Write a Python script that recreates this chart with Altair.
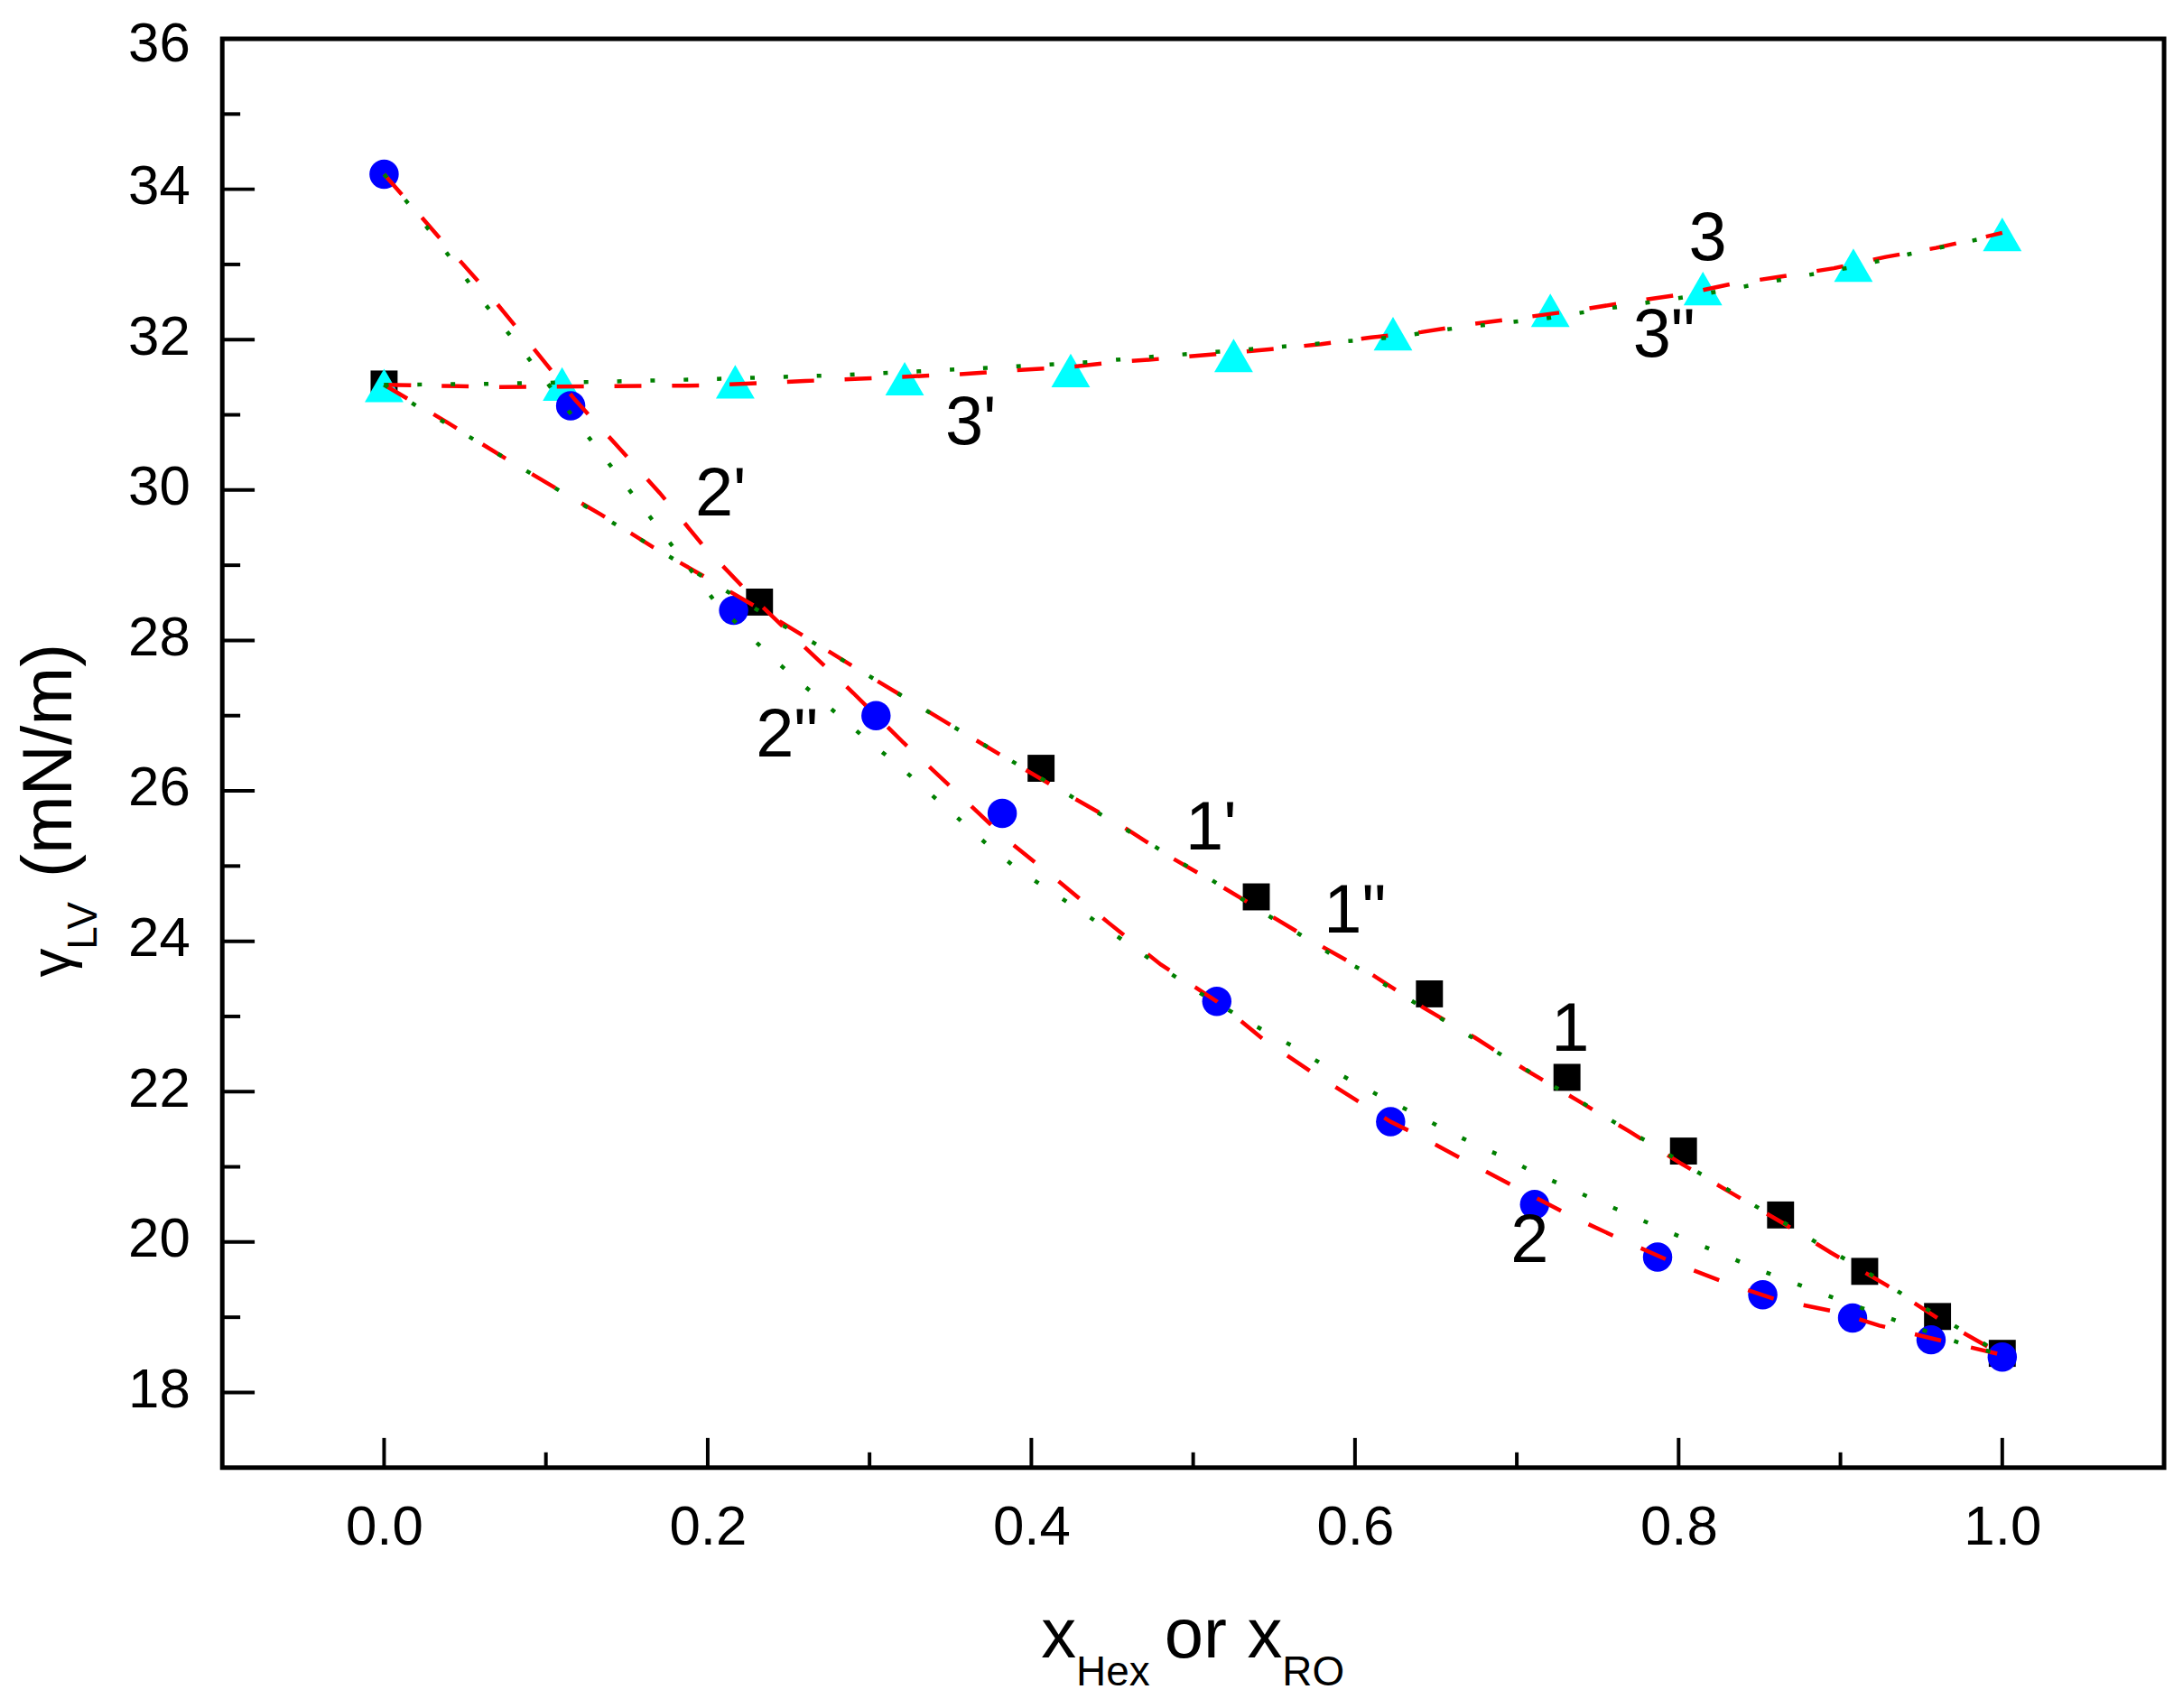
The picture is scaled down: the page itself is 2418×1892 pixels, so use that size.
import altair as alt
import pandas as pd

# ---------------- data ----------------
# series 1 (black squares)
sq_x = [0.0, 0.232, 0.406, 0.539, 0.646, 0.731, 0.803, 0.863, 0.915, 0.960, 1.0]
sq_y = [31.41, 28.51, 26.30, 24.59, 23.30, 22.19, 21.21, 20.36, 19.61, 19.01, 18.52]
# series 2 (blue circles)
ci_x = [0.0, 0.1153, 0.216, 0.304, 0.382, 0.5146, 0.622, 0.711, 0.787, 0.852, 0.9075, 0.956, 1.0]
ci_y = [34.20, 31.12, 28.40, 27.00, 25.70, 23.20, 21.60, 20.50, 19.80, 19.30, 18.99, 18.70, 18.47]
# series 3 (cyan triangles)
tr_x = [0.0, 0.110, 0.217, 0.3217, 0.4243, 0.525, 0.6235, 0.7207, 0.815, 0.908, 1.0]
tr_y = [31.39, 31.41, 31.44, 31.48, 31.59, 31.79, 32.08, 32.39, 32.68, 32.99, 33.40]

# fitted curves, red dashed (')
c1a_x = [0.0, 0.039, 0.0712, 0.1017, 0.1344, 0.1662, 0.197, 0.232, 0.294, 0.325, 0.356, 0.387,
         0.420, 0.4526, 0.485, 0.515, 0.547, 0.5796, 0.611, 0.642, 0.674, 0.7046, 0.737, 0.7696,
         0.801, 0.832, 0.8646, 0.894, 0.929, 0.9606, 1.0]
c1a_y = [31.40, 30.90, 30.47, 30.08, 29.67, 29.24, 28.86, 28.42, 27.60, 27.20, 26.80, 26.40,
         25.98, 25.58, 25.13, 24.76, 24.35, 23.93, 23.55, 23.12, 22.72, 22.30, 21.89, 21.47,
         21.05, 20.66, 20.25, 19.86, 19.42, 18.98, 18.50]
c2a_x = [0.0, 0.034, 0.0613, 0.088, 0.118, 0.1431, 0.1704, 0.1972, 0.2294, 0.2584, 0.290, 0.321,
         0.3534, 0.3849, 0.4172, 0.448, 0.480, 0.5146, 0.5437, 0.5747, 0.622, 0.639, 0.670, 0.702,
         0.734, 0.766, 0.7976, 0.829, 0.861, 0.8957, 0.924, 0.9563, 1.0]
c2a_y = [34.20, 33.36, 32.70, 32.00, 31.20, 30.61, 29.96, 29.26, 28.54, 27.94, 27.30, 26.64,
         25.99, 25.35, 24.79, 24.24, 23.69, 23.20, 22.69, 22.24, 21.60, 21.42, 21.06, 20.70,
         20.34, 20.02, 19.72, 19.46, 19.23, 19.08, 18.89, 18.72, 18.50]
c3a_x = [0.0, 0.072, 0.198, 0.260, 0.294, 0.325, 0.356, 0.388, 0.4206, 0.452, 0.483, 0.5154,
         0.547, 0.579, 0.610, 0.641, 0.6736, 0.706, 0.737, 0.769, 0.8017, 0.8327, 0.8637, 0.896,
         0.928, 0.959, 0.990, 1.0]
c3a_y = [31.40, 31.37, 31.39, 31.45, 31.48, 31.51, 31.54, 31.59, 31.63, 31.70, 31.75, 31.81,
         31.87, 31.94, 32.03, 32.10, 32.21, 32.30, 32.39, 32.50, 32.60, 32.74, 32.84, 32.95,
         33.10, 33.22, 33.37, 33.42]

# fitted curves, green dotted (")
c1b_x = [0.0, 0.0198, 0.058, 0.114, 0.151, 0.19, 0.2456, 0.2654, 0.284, 0.3026, 0.341, 0.378,
         0.397, 0.416, 0.435, 0.454, 0.4725, 0.492, 0.511, 0.5295, 0.548, 0.5667, 0.585, 0.604,
         0.6225, 0.641, 0.661, 0.680, 0.6985, 0.717, 0.737, 0.755, 0.774, 0.7926, 0.8125, 0.831,
         0.8497, 0.868, 0.887, 0.9055, 0.924, 0.944, 0.9626, 0.981, 1.0]
c1b_y = [31.40, 31.12, 30.64, 29.92, 29.44, 28.94, 28.21, 27.97, 27.73, 27.49, 26.99, 26.52,
         26.28, 26.04, 25.79, 25.54, 25.31, 25.05, 24.82, 24.57, 24.32, 24.08, 23.83, 23.62,
         23.37, 23.13, 22.87, 22.62, 22.39, 22.14, 21.90, 21.66, 21.42, 21.18, 20.92, 20.69,
         20.45, 20.22, 19.97, 19.74, 19.50, 19.23, 18.99, 18.75, 18.50]
c2b_x = [0.0, 0.0161, 0.031, 0.0459, 0.0595, 0.0744, 0.0893, 0.119, 0.1476, 0.1773, 0.2058,
         0.2418, 0.260, 0.279, 0.2988, 0.3174, 0.336, 0.355, 0.373, 0.392, 0.411, 0.430, 0.4675,
         0.486, 0.505, 0.5246, 0.543, 0.562, 0.580, 0.599, 0.619, 0.6377, 0.656, 0.675, 0.695,
         0.713, 0.732, 0.7505, 0.770, 0.788, 0.8076, 0.826, 0.845, 0.8633, 0.882, 0.9005, 0.920,
         0.939, 0.9576, 0.976, 1.0]
c2b_y = [34.20, 33.78, 33.37, 32.95, 32.55, 32.15, 31.75, 30.91, 30.11, 29.28, 28.48,
         27.73, 27.39, 27.04, 26.67, 26.35, 25.99, 25.63, 25.28, 24.95, 24.68, 24.41, 23.85,
         23.57, 23.30, 23.05, 22.82, 22.60, 22.36, 22.13, 21.90, 21.70, 21.49, 21.29, 21.10,
         20.90, 20.72, 20.54, 20.36, 20.19, 20.01, 19.85, 19.67, 19.52, 19.37, 19.22, 19.07,
         18.92, 18.78, 18.64, 18.50]
c3b_x = [0.0, 0.058, 0.134, 0.2095, 0.284, 0.3596, 0.3782, 0.4355, 0.4727, 0.5285, 0.5677,
         0.6233, 0.6613, 0.717, 0.7546, 0.8116, 0.849, 0.906, 0.943, 0.9976, 1.0]
c3b_y = [31.40, 31.41, 31.44, 31.48, 31.53, 31.61, 31.63, 31.70, 31.77, 31.86, 31.93,
         32.03, 32.15, 32.28, 32.41, 32.59, 32.74, 32.96, 33.14, 33.39, 33.42]

# curve labels
lab_text = ["1", "1'", '1"', "2", "2'", '2"', "3", "3'", '3"']
lab_x = [0.733, 0.511, 0.600, 0.708, 0.208, 0.249, 0.818, 0.3625, 0.791]
lab_y = [22.87, 25.54, 24.44, 20.06, 29.98, 26.78, 33.38, 30.93, 32.10]

# axis ticks
x_major = [0.0, 0.2, 0.4, 0.6, 0.8, 1.0]
x_minor = [0.1, 0.3, 0.5, 0.7, 0.9]
y_major = [18, 20, 22, 24, 26, 28, 30, 32, 34, 36]
y_minor = [19, 21, 23, 25, 27, 29, 31, 33, 35]

# ---------------- chart ----------------
W, H = 2158, 1588
FONT = "Liberation Sans"

xscale = alt.Scale(domain=[-0.1, 1.1], nice=False, zero=False)
yscale = alt.Scale(domain=[17, 36], nice=False, zero=False)

xaxis = alt.Axis(values=x_major, format=".1f", labelFontSize=62, labelFont=FONT,
                 labelColor="black", labelPadding=36, ticks=False, tickSize=0,
                 domain=False, grid=False, title=None, labelFlush=False)
yaxis = alt.Axis(values=y_major, format="d", labelFontSize=62, labelFont=FONT,
                 labelColor="black", labelPadding=36, ticks=False, tickSize=0,
                 domain=False, grid=False, title=None, labelFlush=False,
                 labelOffset={"condition": {"test": "datum.value == 36", "value": 6},
                              "value": -3})


def X():
    return alt.X("x:Q", scale=xscale, axis=xaxis)


def Y():
    return alt.Y("y:Q", scale=yscale, axis=yaxis)


squares = alt.Chart(pd.DataFrame({"x": sq_x, "y": sq_y})).mark_point(
    shape="square", filled=True, size=900, color="black", opacity=1
).encode(x=X(), y=Y())

triangles = alt.Chart(pd.DataFrame({"x": tr_x, "y": tr_y})).mark_point(
    shape="triangle-up", filled=True, size=1850, color="#00FFFF", opacity=1
).encode(x=X(), y=Y())

circles = alt.Chart(pd.DataFrame({"x": ci_x, "y": ci_y})).mark_point(
    shape="circle", filled=True, size=1060, color="#0000FF", opacity=1
).encode(x=X(), y=Y())


def curves(pairs):
    frames = []
    for name, xs, ys in pairs:
        frames.append(pd.DataFrame({"x": xs, "y": ys, "c": name, "i": list(range(len(xs)))}))
    return pd.concat(frames, ignore_index=True)


red_df = curves([("1", c1a_x, c1a_y), ("2", c2a_x, c2a_y), ("3", c3a_x, c3a_y)])
green_df = curves([("1", c1b_x, c1b_y), ("2", c2b_x, c2b_y), ("3", c3b_x, c3b_y)])

red = alt.Chart(red_df).mark_line(
    color="#FF0000", strokeWidth=4.5, strokeDash=[30, 34]
).encode(x=X(), y=Y(), detail="c:N", order="i:Q")

green = alt.Chart(green_df).mark_line(
    color="#008000", strokeWidth=4.5, strokeDash=[5, 32]
).encode(x=X(), y=Y(), detail="c:N", order="i:Q")

labels = alt.Chart(pd.DataFrame({"x": lab_x, "y": lab_y, "t": lab_text})).mark_text(
    font=FONT, fontSize=76, color="black", align="center", baseline="middle", dy=4
).encode(x=X(), y=Y(), text="t:N")


# inward ticks
def yticks(vals, length):
    return alt.Chart(pd.DataFrame({"y": vals})).mark_rule(color="black", strokeWidth=4).encode(
        y=Y(), x=alt.value(0), x2=alt.value(length))


def xticks(vals, length):
    return alt.Chart(pd.DataFrame({"x": vals})).mark_rule(color="black", strokeWidth=4).encode(
        x=X(), y=alt.value(H), y2=alt.value(H - length))


ticks = [yticks(y_major[:-1], 36), yticks(y_minor, 20), xticks(x_major, 33), xticks(x_minor, 17)]


# axis titles with subscripts
def txt(s, px, py, size, angle=0):
    kw = dict(font=FONT, fontSize=size, color="black", align="left", baseline="alphabetic")
    if angle:
        kw["angle"] = angle
    return alt.Chart(pd.DataFrame({"t": [s]})).mark_text(**kw).encode(
        x=alt.value(px), y=alt.value(py), text="t:N")


titles = [
    txt("x", 910, 1799, 78),
    txt("Hex", 949, 1830, 46),
    txt("or", 1047, 1799, 78),
    txt("x", 1139, 1799, 78),
    txt("RO", 1178, 1830, 46),
    txt("γ", -169, 1043, 64, 270),
    txt("LV", -140, 1012, 46, 270),
    txt("(mN/m)", -168, 932, 78, 270),
]

chart = alt.layer(
    squares, triangles, circles, red, green, labels, *ticks, *titles
).properties(
    width=W, height=H,
    autosize=alt.AutoSizeParams(type="none"),
    padding={"left": 239, "top": 32, "right": 13, "bottom": 264},
    background="white",
).configure_view(stroke="black", strokeWidth=5)

chart.save("out.html", embed_options={"renderer": "svg", "actions": False})
